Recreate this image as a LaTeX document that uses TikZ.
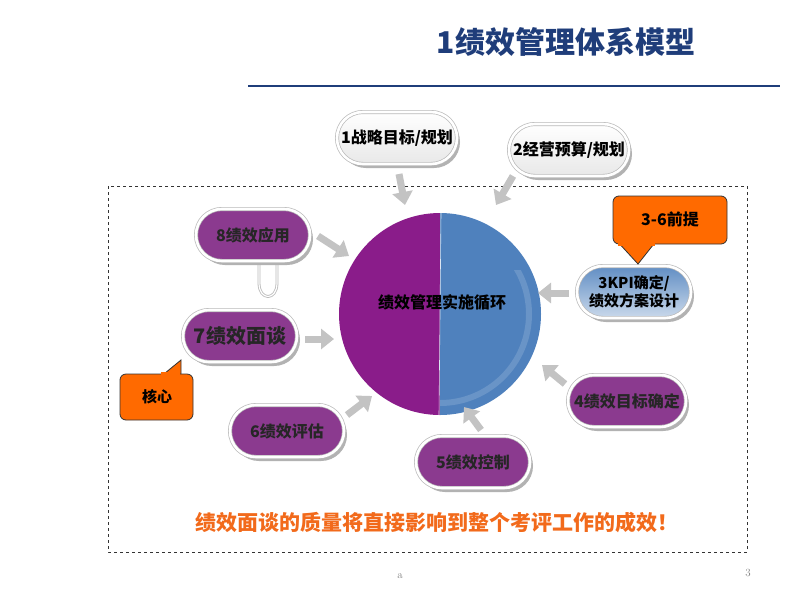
\documentclass[tikz,border=0pt]{standalone}
\usepackage{fontspec}
\newfontfamily\cjk{Noto Sans CJK SC}
\usetikzlibrary{shadows,arrows.meta}
\definecolor{titleblue}{HTML}{1F3D7A}
\definecolor{pillpurple}{HTML}{8B3A8F}
\definecolor{circpurple}{HTML}{8A1C8A}
\definecolor{circblue}{HTML}{4F81BD}
\definecolor{callorange}{HTML}{FF6A00}
\definecolor{textorange}{HTML}{F26A1B}
\definecolor{arrgray}{HTML}{C3C3C3}
\begin{document}
\begin{tikzpicture}[x=1pt,y=-1pt,
  font=\cjk\bfseries,
  pill/.style={rounded corners=26pt, minimum width=114pt, minimum height=52pt, inner sep=0pt,
    draw=gray!55, double=white, double distance=2.6pt, line width=0.7pt,
    drop shadow={shadow xshift=3pt, shadow yshift=-4pt, fill=gray!60, opacity=1},
    align=center, font=\cjk\bfseries\fontsize{16}{18}\selectfont},
  purplepill/.style={pill, fill=pillpurple, text=black!85},
  whitepill/.style={pill, top color=white, bottom color=gray!18, text=black},
  bluepill/.style={pill, top color=circblue!90, bottom color=circblue!30, text=black},
  arr/.style={draw=arrgray, line width=7pt, -{Triangle[width=20pt,length=13pt]}},
  callout/.style={fill=callorange, draw=black!80, line width=0.8pt},
]
\useasboundingbox (0,0) rectangle (800,600);
\fill[white] (0,0) rectangle (800,600);

% title
\node[text=titleblue, font=\cjk\bfseries\fontsize{30}{34}\selectfont] (title) at (566,42) {1绩效管理体系模型};
\coordinate (tl) at (248,86);
\coordinate (tr) at (780,86);
\draw[titleblue, line width=2pt] (tl) -- (tr);

% dashed frame
\draw[dashed, black!80, line width=0.8pt] (108,186) rectangle (747,552);

% loop under 8
\draw[gray!55, double=white, double distance=1.2pt, line width=0.8pt] (259,262) -- (259,283) .. controls (259,301) and (277,301) .. (277,283) -- (277,262);

% central circle
\node[circle, minimum size=202pt, inner sep=0pt] (circ) at (440,314) {};
\begin{scope}
  \clip (330,200) rectangle (440,430);
  \fill[circpurple] (440,314) circle (101pt);
\end{scope}
\begin{scope}
  \clip (440,200) rectangle (560,430);
  \fill[circblue] (440,314) circle (101pt);
\end{scope}
\begin{scope}
  \clip (440,270) rectangle (560,430);
  \draw[white!15!circblue, line width=6pt] (440,314) circle (89pt);
\end{scope}
\draw[white!80!circblue, line width=0.6pt] (441,213) -- (439,415);
\node[font=\cjk\bfseries\fontsize{16}{18}\selectfont, text=black] (ctext) at (442,302) {绩效管理实施循环};

% nodes
\node[whitepill, minimum width=120pt] (n1) at (397,138) {1战略目标/规划};
\node[whitepill, minimum width=120pt] (n2) at (569,150) {2经营预算/规划};
\node[bluepill, font=\cjk\bfseries\fontsize{15}{18}\selectfont] (n3) at (634,292) {3KPI确定/\\绩效方案设计};
\node[purplepill, minimum width=118pt] (n4) at (627,401) {4绩效目标确定};
\node[purplepill] (n5) at (473,462) {5绩效控制};
\node[purplepill] (n6) at (287,431) {6绩效评估};
\node[purplepill, font=\cjk\bfseries\fontsize{20}{22}\selectfont] (n7) at (240,336) {7绩效面谈};
\node[purplepill] (n8) at (253,235) {8绩效应用};

% arrows
\coordinate (a1s) at (399,174); \coordinate (a1e) at (405,205);
\coordinate (a2s) at (513,176); \coordinate (a2e) at (496,205);
\coordinate (a3s) at (569,293); \coordinate (a3e) at (538,293);
\coordinate (a4s) at (565,384); \coordinate (a4e) at (542,365);
\coordinate (a5s) at (481,430); \coordinate (a5e) at (464,407);
\coordinate (a6s) at (347,415); \coordinate (a6e) at (372,396);
\coordinate (a7s) at (305,339); \coordinate (a7e) at (334,339);
\coordinate (a8s) at (318,236); \coordinate (a8e) at (349,256);
\foreach \i in {1,...,8} { \draw[arr] (a\i s) -- (a\i e); }

% callout tails at pgf level (canvas coordinates, y negated)
\begin{scope}
  \pgfsetfillcolor{callorange}
  \pgfsetstrokecolor{black!80}
  \pgfsetlinewidth{0.8pt}
  \pgfpathmoveto{\pgfqpoint{616pt}{-240pt}}
  \pgfpathlineto{\pgfqpoint{638pt}{-264pt}}
  \pgfpathlineto{\pgfqpoint{657pt}{-240pt}}
  \pgfpathclose
  \pgfusepath{fill,stroke}
  \pgfpathmoveto{\pgfqpoint{159pt}{-378pt}}
  \pgfpathlineto{\pgfqpoint{181pt}{-360pt}}
  \pgfpathlineto{\pgfqpoint{181pt}{-378pt}}
  \pgfpathclose
  \pgfusepath{fill,stroke}
\end{scope}

% callout boxes
\draw[callout, rounded corners=6pt] (613,196) rectangle (727,244);
\fill[callorange] (618,242.5) rectangle (655,246);
\node[font=\cjk\bfseries\fontsize{16}{18}\selectfont] (c1) at (670,219) {3-6前提};
\draw[callout, rounded corners=6pt] (120,374) rectangle (193,420);
\fill[callorange] (161,372) rectangle (180.4,375.5);
\node[font=\cjk\bfseries\fontsize{15}{18}\selectfont] (c2) at (157,397) {核心};

% bottom text
\node[text=textorange, font=\cjk\bfseries\fontsize{21}{24}\selectfont] (bt) at (437,522) {绩效面谈的质量将直接影响到整个考评工作的成效！};

% page marks
\node[text=gray, font=\rmfamily\fontsize{11}{12}\selectfont] (pa) at (400,576) {a};
\node[text=gray, font=\rmfamily\fontsize{11}{12}\selectfont] (pn) at (748,573) {3};
\end{tikzpicture}
\end{document}
